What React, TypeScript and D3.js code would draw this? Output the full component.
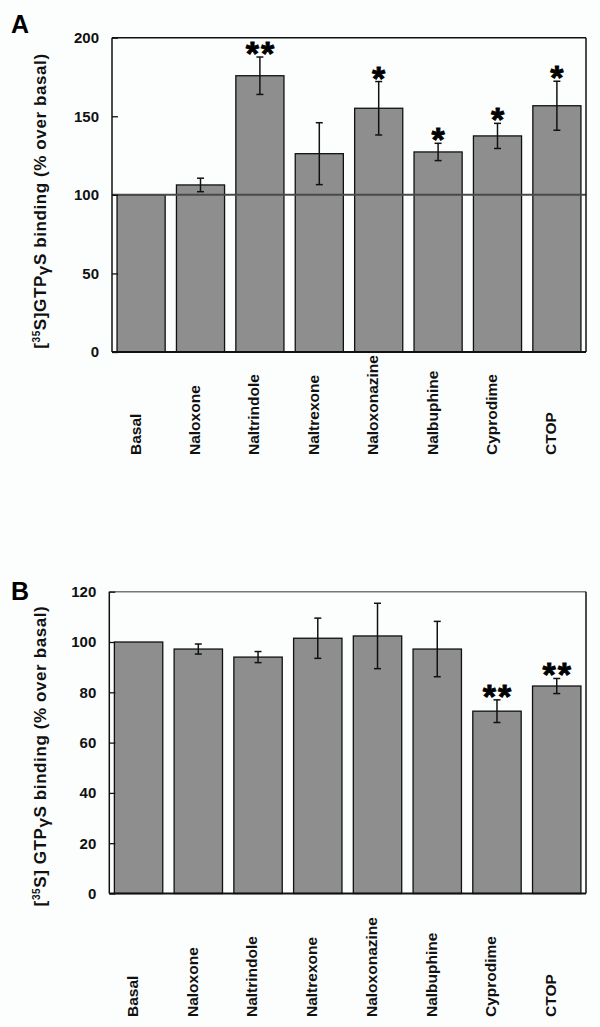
import React, { useEffect, useRef } from 'react';
import * as d3 from 'd3';

const categories = ['Basal', 'Naloxone', 'Naltrindole', 'Naltrexone', 'Naloxonazine', 'Nalbuphine', 'Cyprodime', 'CTOP'];

// panel A: agonist-like stimulation
const valuesA = [100, 106.3, 175.8, 126.2, 155.1, 127.3, 137.5, 156.7];
const errorsA = [0, 4.3, 11.9, 19.7, 17, 5.5, 8, 15.6];
const starsA = ['', '', '**', '', '*', '*', '*', '*'];
const ticksA = [0, 50, 100, 150, 200];

// panel B: inhibition
const valuesB = [100, 97.2, 94, 101.5, 102.4, 97.2, 72.5, 82.5];
const errorsB = [0, 2, 2.2, 8, 13, 11, 4.5, 3];
const starsB = ['', '', '', '', '', '', '**', '**'];
const ticksB = [0, 20, 40, 60, 80, 100, 120];

const FONT = 'Liberation Sans, Arial, Helvetica, sans-serif';

interface PanelOpts {
  letter: string;
  letterY: number;
  values: number[];
  errors: number[];
  stars: string[];
  ticks: number[];
  yMax: number;
  left: number;
  right: number;
  top: number;
  bottom: number;
  labelY: number;
  titleY: number;
  titleSpace: boolean;
  refLine: number | null;
  topStroke: string;
}

function drawPanel(svg: d3.Selection<SVGSVGElement, unknown, null, undefined>, o: PanelOpts) {
  const g = svg.append('g');

  const x = d3.scaleBand()
    .domain(categories)
    .range([o.left, o.right])
    .paddingInner(0.19)
    .paddingOuter(0.085);

  const y = d3.scaleLinear()
    .domain([0, o.yMax])
    .range([o.bottom, o.top]);

  // panel letter
  g.append('text')
    .attr('x', 11)
    .attr('y', o.letterY)
    .attr('font-family', FONT)
    .attr('font-weight', 'bold')
    .attr('font-size', 25)
    .text(o.letter);

  // bars
  g.selectAll('rect.bar')
    .data(categories)
    .join('rect')
    .attr('class', 'bar')
    .attr('x', d => x(d)!)
    .attr('y', (_, i) => y(o.values[i]))
    .attr('width', x.bandwidth())
    .attr('height', (_, i) => y(0) - y(o.values[i]))
    .attr('fill', '#8e8e8e')
    .attr('stroke', '#111')
    .attr('stroke-width', 1.3);

  // reference line at 100
  if (o.refLine !== null) {
    g.append('line')
      .attr('x1', o.left)
      .attr('x2', o.right)
      .attr('y1', y(o.refLine))
      .attr('y2', y(o.refLine))
      .attr('stroke', '#4a4a4a')
      .attr('stroke-width', 2);
  }

  // error bars
  categories.forEach((c, i) => {
    if (!o.errors[i]) return;
    const cx = x(c)! + x.bandwidth() / 2;
    const y1 = y(o.values[i] + o.errors[i]);
    const y2 = y(o.values[i] - o.errors[i]);
    g.append('line').attr('x1', cx).attr('x2', cx).attr('y1', y1).attr('y2', y2)
      .attr('stroke', '#111').attr('stroke-width', 1.5);
    [y1, y2].forEach(yy => {
      g.append('line').attr('x1', cx - 3.5).attr('x2', cx + 3.5).attr('y1', yy).attr('y2', yy)
        .attr('stroke', '#111').attr('stroke-width', 1.5);
    });
    if (o.stars[i]) {
      g.append('text')
        .attr('x', cx + (o.stars[i].length > 1 ? 1 : 0))
        .attr('y', y1 + 8)
        .attr('text-anchor', 'middle')
        .attr('font-family', FONT)
        .attr('font-weight', 'bold')
        .attr('font-size', 34)
        .attr('stroke', '#000')
        .attr('stroke-width', 0.8)
        .attr('letter-spacing', o.stars[i].length > 1 ? 2 : 0)
        .text(o.stars[i]);
    }
  });

  // frame
  g.append('line').attr('x1', o.left).attr('x2', o.right).attr('y1', o.top).attr('y2', o.top)
    .attr('stroke', o.topStroke).attr('stroke-width', 1.5);
  g.append('line').attr('x1', o.right).attr('x2', o.right).attr('y1', o.top).attr('y2', o.bottom)
    .attr('stroke', '#111').attr('stroke-width', 1.5);
  g.append('line').attr('x1', o.left).attr('x2', o.left).attr('y1', o.top).attr('y2', o.bottom)
    .attr('stroke', '#111').attr('stroke-width', 1.5);
  g.append('line').attr('x1', o.left).attr('x2', o.right).attr('y1', o.bottom).attr('y2', o.bottom)
    .attr('stroke', '#111').attr('stroke-width', 2);

  // y axis ticks (inside) and labels
  const yAxis = d3.axisLeft(y).tickValues(o.ticks).tickSize(-6).tickPadding(13);
  const ax = g.append('g')
    .attr('transform', `translate(${o.left},0)`)
    .call(yAxis);
  ax.select('.domain').remove();
  ax.selectAll('line').attr('stroke', '#111').attr('stroke-width', 1.3);
  ax.selectAll('text')
    .attr('font-family', FONT)
    .attr('font-weight', 'bold')
    .attr('font-size', 15)
    .attr('fill', '#111');

  // y title
  const title = g.append('text')
    .attr('transform', `translate(46,${o.titleY}) rotate(-90)`)
    .attr('text-anchor', 'middle')
    .attr('font-family', FONT)
    .attr('font-weight', 'bold')
    .attr('font-size', 17)
    .attr('letter-spacing', 0.6)
    .attr('fill', '#111');
  title.append('tspan').text('[');
  title.append('tspan').attr('font-size', 10).attr('dy', -6).text('35');
  title.append('tspan').attr('dy', 6).text(o.titleSpace ? 'S] GTP' : 'S]GTP');
  title.append('tspan').attr('dy', 3).text('γ');
  title.append('tspan').attr('dy', -3).text('S binding (% over basal)');

  // category labels
  g.selectAll('text.cat')
    .data(categories)
    .join('text')
    .attr('class', 'cat')
    .attr('transform', d => `translate(${x(d)! + x.bandwidth() / 2 - 6},${o.labelY}) rotate(-90)`)
    .attr('dy', '0.35em')
    .attr('font-family', FONT)
    .attr('font-weight', 'bold')
    .attr('font-size', 15.5)
    .attr('fill', '#111')
    .text(d => d);
}

const App: React.FC = () => {
  const svgRef = useRef<SVGSVGElement | null>(null);

  useEffect(() => {
    if (!svgRef.current) return;
    const svg = d3.select(svgRef.current);
    svg.selectAll('*').remove();

    svg.append('rect').attr('width', 600).attr('height', 1027).attr('fill', '#fcfefe');

    drawPanel(svg, {
      letter: 'A', letterY: 33,
      values: valuesA, errors: errorsA, stars: starsA, ticks: ticksA, yMax: 200,
      left: 112, right: 586, top: 37.7, bottom: 352,
      labelY: 455, titleY: 201, titleSpace: false, refLine: 100, topStroke: '#111',
    });

    drawPanel(svg, {
      letter: 'B', letterY: 600,
      values: valuesB, errors: errorsB, stars: starsB, ticks: ticksB, yMax: 120,
      left: 109.3, right: 586, top: 591.7, bottom: 893.5,
      labelY: 1017, titleY: 756, titleSpace: true, refLine: null, topStroke: '#777',
    });
  }, []);

  return (
    <svg
      ref={svgRef}
      width={600}
      height={1027}
      style={{ position: 'absolute', left: 0, top: 0, display: 'block' }}
    />
  );
};

export default App;
